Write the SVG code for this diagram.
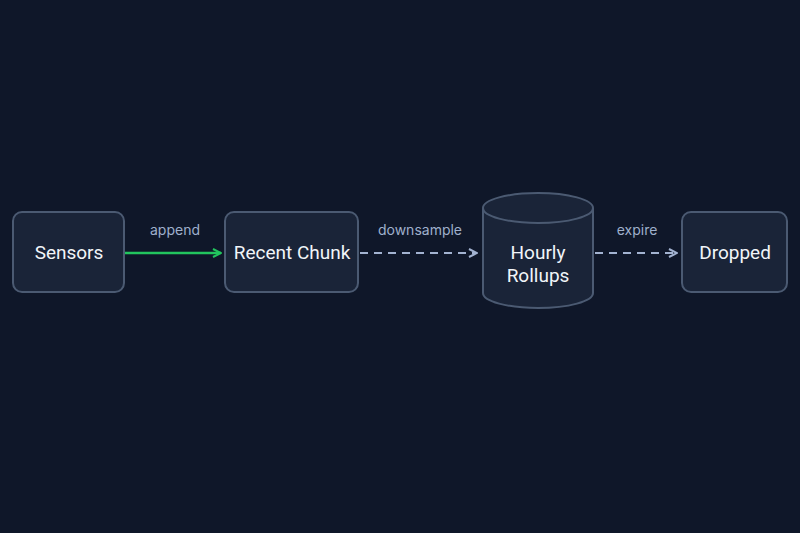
<svg xmlns="http://www.w3.org/2000/svg" width="800" height="533" viewBox="0 0 800 533">
<defs>
<style>
.node{fill:#1a2438;stroke:#4b5a72;stroke-width:2}
.lbl{font-family:"Roboto","Liberation Sans",sans-serif;font-size:19px;fill:#f1f5f9;text-anchor:middle}
.elbl{font-family:"Inter","Liberation Sans",sans-serif;font-size:14px;fill:#9fb0cc;text-anchor:middle}
.dash{stroke:#a3b3d1;stroke-width:2;stroke-dasharray:8 6;fill:none}
</style>
<marker id="ag" viewBox="0 0 10 10" refX="9" refY="5" markerWidth="10" markerHeight="10" markerUnits="userSpaceOnUse" orient="auto"><path d="M1,1 L9,5 L1,9" fill="none" stroke="#22c55e" stroke-width="2"/></marker>
<marker id="ad" viewBox="0 0 10 10" refX="9" refY="5" markerWidth="10" markerHeight="10" markerUnits="userSpaceOnUse" orient="auto"><path d="M1,1 L9,5 L1,9" fill="none" stroke="#a3b3d1" stroke-width="2"/></marker>
</defs>
<rect width="800" height="533" fill="#0f1729"/>
<g id="connectors">
<line x1="125" y1="253" x2="221" y2="253" stroke="#22c55e" stroke-width="2.5" marker-end="url(#ag)"/>
<text class="elbl" x="175" y="235">append</text>
<line class="dash" x1="360" y1="253" x2="477" y2="253" marker-end="url(#ad)"/>
<text class="elbl" x="420" y="235">downsample</text>
<line class="dash" x1="595" y1="253" x2="677" y2="253" marker-end="url(#ad)"/>
<text class="elbl" x="637" y="235">expire</text>
</g>
<g id="sensors">
<rect class="node" x="13" y="212" width="111" height="80" rx="9"/>
<text class="lbl" x="69" y="259">Sensors</text>
</g>
<g id="recent">
<rect class="node" x="225" y="212" width="133" height="80" rx="9"/>
<text class="lbl" x="292" y="259">Recent Chunk</text>
</g>
<g id="hourly">
<path class="node" d="M483,208 A55,15 0 0 1 593,208 L593,293 A55,15 0 0 1 483,293 Z"/>
<path d="M483,208 A55,15 0 0 0 593,208" fill="none" stroke="#4b5a72" stroke-width="2"/>
<text class="lbl" x="538" y="259">Hourly</text>
<text class="lbl" x="538" y="282">Rollups</text>
</g>
<g id="dropped">
<rect class="node" x="682" y="212" width="105" height="80" rx="9"/>
<text class="lbl" x="735" y="259">Dropped</text>
</g>
</svg>
